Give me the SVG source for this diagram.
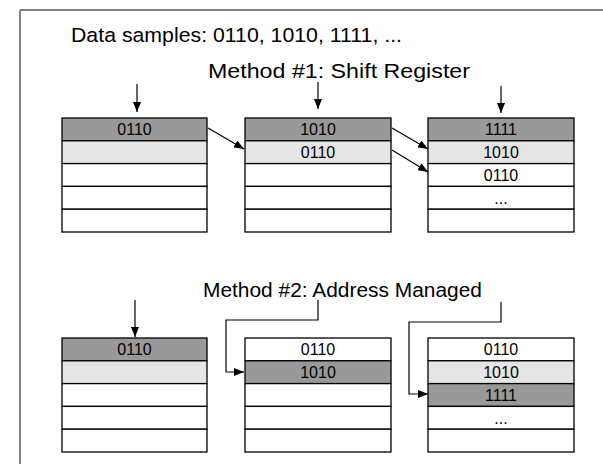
<svg xmlns="http://www.w3.org/2000/svg" width="603" height="464" viewBox="0 0 603 464">
<style>
text{font-family:"Liberation Sans",Arial,sans-serif;fill:#000}
.t{font-size:20.5px}
.c{font-size:16px;text-anchor:middle}
.w{fill:#fff;stroke:#000;stroke-width:1.3}
.d{fill:#999;stroke:#000;stroke-width:1.3}
.l{fill:#e5e5e5;stroke:#000;stroke-width:1.3}
.ln{fill:none;stroke:#000;stroke-width:1.2}
</style>
<defs>
<marker id="ah" markerWidth="10" markerHeight="8" refX="10" refY="4" orient="auto" markerUnits="userSpaceOnUse">
<path d="M0,0 L10,4 L0,8 Z" fill="#000"/>
</marker>
</defs>
<rect width="603" height="464" fill="#fff"/>
<line x1="20" y1="10" x2="603" y2="10" stroke="#000" stroke-width="1.2"/>
<line x1="20" y1="10" x2="20" y2="464" stroke="#888" stroke-width="2"/>
<text class="t" x="71" y="42" textLength="331" lengthAdjust="spacingAndGlyphs">Data samples: 0110, 1010, 1111, ...</text>
<text class="t" x="208" y="78" textLength="262" lengthAdjust="spacingAndGlyphs">Method #1: Shift Register</text>
<text class="t" x="203" y="297" textLength="279" lengthAdjust="spacingAndGlyphs">Method #2: Address Managed</text>

<g id="sr1">
<rect class="d" x="62" y="118" width="145" height="22.8"/>
<rect class="l" x="62" y="140.8" width="145" height="22.8"/>
<rect class="w" x="62" y="163.6" width="145" height="22.8"/>
<rect class="w" x="62" y="186.4" width="145" height="22.8"/>
<rect class="w" x="62" y="209.2" width="145" height="22.8"/>
<text class="c" x="134.5" y="135.2">0110</text>
</g>
<g id="sr2">
<rect class="d" x="245" y="118" width="146" height="22.8"/>
<rect class="l" x="245" y="140.8" width="146" height="22.8"/>
<rect class="w" x="245" y="163.6" width="146" height="22.8"/>
<rect class="w" x="245" y="186.4" width="146" height="22.8"/>
<rect class="w" x="245" y="209.2" width="146" height="22.8"/>
<text class="c" x="318" y="135.2">1010</text>
<text class="c" x="318" y="158">0110</text>
</g>
<g id="sr3">
<rect class="d" x="428" y="118" width="146" height="22.8"/>
<rect class="l" x="428" y="140.8" width="146" height="22.8"/>
<rect class="w" x="428" y="163.6" width="146" height="22.8"/>
<rect class="w" x="428" y="186.4" width="146" height="22.8"/>
<rect class="w" x="428" y="209.2" width="146" height="22.8"/>
<text class="c" x="501" y="135.2">1111</text>
<text class="c" x="501" y="158">1010</text>
<text class="c" x="501" y="180.8">0110</text>
<text class="c" x="501" y="203.6">...</text>
</g>

<g id="am1">
<rect class="d" x="62" y="338" width="145" height="22.8"/>
<rect class="l" x="62" y="360.8" width="145" height="22.8"/>
<rect class="w" x="62" y="383.6" width="145" height="22.8"/>
<rect class="w" x="62" y="406.4" width="145" height="22.8"/>
<rect class="w" x="62" y="429.2" width="145" height="22.8"/>
<text class="c" x="134.5" y="355.2">0110</text>
</g>
<g id="am2">
<rect class="w" x="245" y="338" width="146" height="22.8"/>
<rect class="d" x="245" y="360.8" width="146" height="22.8"/>
<rect class="w" x="245" y="383.6" width="146" height="22.8"/>
<rect class="w" x="245" y="406.4" width="146" height="22.8"/>
<rect class="w" x="245" y="429.2" width="146" height="22.8"/>
<text class="c" x="318" y="355.2">0110</text>
<text class="c" x="318" y="378">1010</text>
</g>
<g id="am3">
<rect class="w" x="428" y="338" width="146" height="22.8"/>
<rect class="l" x="428" y="360.8" width="146" height="22.8"/>
<rect class="d" x="428" y="383.6" width="146" height="22.8"/>
<rect class="w" x="428" y="406.4" width="146" height="22.8"/>
<rect class="w" x="428" y="429.2" width="146" height="22.8"/>
<text class="c" x="501" y="355.2">0110</text>
<text class="c" x="501" y="378">1010</text>
<text class="c" x="501" y="400.8">1111</text>
<text class="c" x="501" y="423.6">...</text>
</g>

<g id="connectors">
<line class="ln" x1="137" y1="84" x2="137" y2="112" marker-end="url(#ah)"/>
<line class="ln" x1="318" y1="82" x2="318" y2="109" marker-end="url(#ah)"/>
<line class="ln" x1="501" y1="86" x2="501" y2="113" marker-end="url(#ah)"/>
<line class="ln" x1="208" y1="128" x2="244" y2="149" marker-end="url(#ah)"/>
<line class="ln" x1="392" y1="128" x2="428" y2="149" marker-end="url(#ah)"/>
<line class="ln" x1="392" y1="150" x2="428" y2="172" marker-end="url(#ah)"/>
<line class="ln" x1="135" y1="300" x2="135" y2="337" marker-end="url(#ah)"/>
<polyline class="ln" points="318,300 318,320 226,320 226,372 244,372" marker-end="url(#ah)"/>
<polyline class="ln" points="501,302 501,322 409,322 409,394 428,394" marker-end="url(#ah)"/>
</g>
</svg>
